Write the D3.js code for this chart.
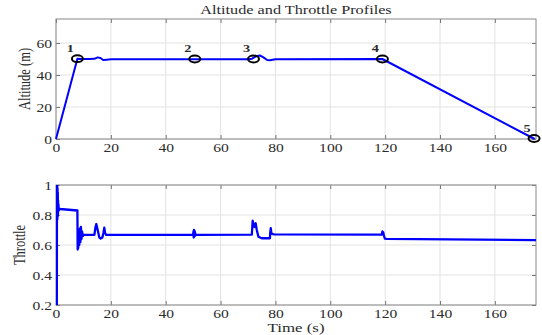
<!DOCTYPE html>
<html>
<head>
<meta charset="utf-8">
<script src="https://cdn.jsdelivr.net/npm/d3@7"></script>
<style>
  body { margin: 0; background: #fff; }
  text { font-family: "Liberation Serif", "DejaVu Serif", serif; fill: #2b2b2b; }
</style>
</head>
<body>
<svg id="chart" width="542" height="335"></svg>
<script>
// altitude profile (time in s, altitude in m)
const altTime  = [0, 7.8, 9, 12, 14, 15.2, 16.2, 17.2, 18.5, 20, 70, 71.5, 73, 74.3, 75.5, 77, 78, 80, 119, 174.5];
const altValue = [0, 50.2, 50, 50, 50.1, 51, 50.6, 49.4, 49.6, 49.8, 49.8, 50.2, 51.8, 52.2, 51.2, 49.4, 49.2, 49.8, 50, 0];

// waypoint markers
const wpTime  = [7.8, 50.6, 72, 119, 174.3];
const wpValue = [50.2, 50, 50, 50, 0.3];
const wpLabel = ['1', '2', '3', '4', '5'];

// throttle profile
const thrTime  = [0.3, 0.35, 0.4, 0.45, 0.5, 0.55, 0.6, 0.65, 0.7, 0.75, 0.8, 0.9, 1.0, 1.2, 1.5, 7.8, 7.9, 8.0, 8.1, 8.3, 8.5, 8.7, 8.9, 9.1, 9.3, 9.5, 9.8, 10.2,
                  14.0, 14.4, 14.7, 15.2, 15.8, 16.3, 16.9, 17.3, 17.6, 17.9, 18.3,
                  50.0, 50.1, 50.2, 50.3, 50.4, 50.5, 50.6, 50.7, 50.8, 51.0,
                  71.4, 71.7, 72.0, 72.4, 72.8, 73.2, 73.8, 75, 78.0, 78.1, 78.3, 78.5, 78.8, 79.5,
                  118.8, 119.0, 119.3, 119.6, 119.9, 120.5, 175];
const thrValue = [0.15, 1.0, 0.78, 1.0, 0.77, 0.98, 0.79, 0.95, 0.8, 0.9, 0.82, 0.87, 0.83, 0.845, 0.84, 0.83, 0.57, 0.6, 0.58, 0.68, 0.6, 0.71, 0.62, 0.72, 0.64, 0.69, 0.66, 0.668,
                  0.668, 0.72, 0.74, 0.70, 0.65, 0.643, 0.65, 0.68, 0.715, 0.68, 0.668,
                  0.668, 0.69, 0.65, 0.70, 0.655, 0.695, 0.66, 0.685, 0.665, 0.668,
                  0.669, 0.762, 0.74, 0.72, 0.745, 0.70, 0.655, 0.645, 0.645, 0.68, 0.713, 0.68, 0.674, 0.671,
                  0.669, 0.69, 0.685, 0.66, 0.643, 0.641, 0.632];

const xTicks = [0, 20, 40, 60, 80, 100, 120, 140, 160];
const altTicks = [0, 20, 40, 60];
const thrTicks = [0.2, 0.4, 0.6, 0.8, 1];

const SX = 1.3; // the reference is stretched sideways
const svg = d3.select('#chart');

const left = 56, right = 536;
const x = d3.scaleLinear().domain([0, 175]).range([left, right]);
const yAlt = d3.scaleLinear().domain([0, 75]).range([139, 19]);
const yThr = d3.scaleLinear().domain([0.2, 1]).range([305, 185]);

function stretch(sel, tx, ty, rot) {
    sel.attr('transform', `translate(${tx},${ty}) scale(${SX},1)` + (rot ? ' rotate(-90)' : ''));
}

function drawFrame(y, yTicks, fmt, id) {
    const [y0, y1] = y.range();
    const g = svg.append('g');

    // grid
    g.append('g').selectAll('line').data(xTicks).enter().append('line')
        .attr('x1', d => x(d)).attr('x2', d => x(d))
        .attr('y1', y1).attr('y2', y0)
        .attr('stroke', '#e3e3e3').attr('stroke-width', 1);
    g.append('g').selectAll('line').data(yTicks).enter().append('line')
        .attr('x1', left).attr('x2', right)
        .attr('y1', d => y(d)).attr('y2', d => y(d))
        .attr('stroke', '#e3e3e3').attr('stroke-width', 1);

    // axes, ticks pointing inward
    const bottom = g.append('g').attr('transform', `translate(0,${y0})`)
        .call(d3.axisBottom(x).tickValues(xTicks).tickSizeInner(-4).tickSizeOuter(0).tickFormat(d3.format('d')));
    const top = g.append('g').attr('transform', `translate(0,${y1})`)
        .call(d3.axisTop(x).tickValues(xTicks).tickSizeInner(-4).tickSizeOuter(0).tickFormat(''));
    const leftAx = g.append('g').attr('transform', `translate(${left},0)`)
        .call(d3.axisLeft(y).tickValues(yTicks).tickSizeInner(-4).tickSizeOuter(0).tickFormat(fmt));
    const rightAx = g.append('g').attr('transform', `translate(${right},0)`)
        .call(d3.axisRight(y).tickValues(yTicks).tickSizeInner(-4).tickSizeOuter(0).tickFormat(''));

    [bottom, top, leftAx, rightAx].forEach(a => {
        a.select('.domain').remove();
        a.selectAll('line').attr('stroke', '#777');
        a.attr('font-family', null).attr('font-size', null);
    });
    bottom.selectAll('text')
        .attr('y', null).attr('dy', null).attr('x', null)
        .attr('font-size', 12).attr('fill', '#333')
        .each(function () { stretch(d3.select(this), 0, 13); });
    leftAx.selectAll('text')
        .attr('y', null).attr('dy', null).attr('x', null)
        .attr('font-size', 12).attr('fill', '#333')
        .each(function () { stretch(d3.select(this), -4, 4); });

    g.append('rect')
        .attr('x', left).attr('y', y1)
        .attr('width', right - left).attr('height', y0 - y1)
        .attr('fill', 'none').attr('stroke', '#888').attr('stroke-width', 1);

    svg.append('clipPath').attr('id', id).append('rect')
        .attr('x', left).attr('y', y1).attr('width', right - left).attr('height', y0 - y1);
}

drawFrame(yAlt, altTicks, d3.format('d'), 'clipAlt');
drawFrame(yThr, thrTicks, d => d === 1 ? '1' : d3.format('.1f')(d), 'clipThr');

// altitude line
const altLine = d3.line().x(d => x(d[0])).y(d => yAlt(d[1]));
svg.append('path')
    .datum(d3.zip(altTime, altValue))
    .attr('d', altLine)
    .attr('fill', 'none').attr('stroke', '#0000ff').attr('stroke-width', 2)
    .attr('stroke-linejoin', 'round');

// waypoints
svg.append('g').selectAll('ellipse').data(d3.range(wpTime.length)).enter().append('ellipse')
    .attr('cx', i => x(wpTime[i])).attr('cy', i => yAlt(wpValue[i]))
    .attr('rx', 5.5).attr('ry', 3.4)
    .attr('fill', 'none').attr('stroke', '#000').attr('stroke-width', 2);
svg.append('g').selectAll('text').data(d3.range(wpTime.length)).enter().append('text')
    .attr('text-anchor', 'middle').attr('font-size', 11).attr('font-weight', 'bold').attr('fill', '#000')
    .text(i => wpLabel[i])
    .each(function (i) {
        const px = Math.min(x(wpTime[i]) - 7, 531);
        stretch(d3.select(this), px, yAlt(wpValue[i]) - 7);
    });

// throttle line
const thrLine = d3.line().x(d => x(d[0])).y(d => yThr(d[1]));
svg.append('path')
    .datum(d3.zip(thrTime, thrValue))
    .attr('d', thrLine)
    .attr('clip-path', 'url(#clipThr)')
    .attr('fill', 'none').attr('stroke', '#0000ff').attr('stroke-width', 2.3)
    .attr('stroke-linejoin', 'round');

// titles
svg.append('text').attr('text-anchor', 'middle').attr('font-size', 12.5).attr('fill', '#222')
    .text('Altitude and Throttle Profiles')
    .call(s => stretch(s, (left + right) / 2, 14));
svg.append('text').attr('text-anchor', 'middle').attr('font-size', 12.5).attr('fill', '#333')
    .text('Altitude (m)')
    .call(s => stretch(s, 30, 79, true));
svg.append('text').attr('text-anchor', 'middle').attr('font-size', 12.5).attr('fill', '#333')
    .text('Throttle')
    .call(s => stretch(s, 25, 245, true));
svg.append('text').attr('text-anchor', 'middle').attr('font-size', 13).attr('fill', '#333')
    .text('Time (s)')
    .call(s => stretch(s, (left + right) / 2, 332));
</script>
</body>
</html>
